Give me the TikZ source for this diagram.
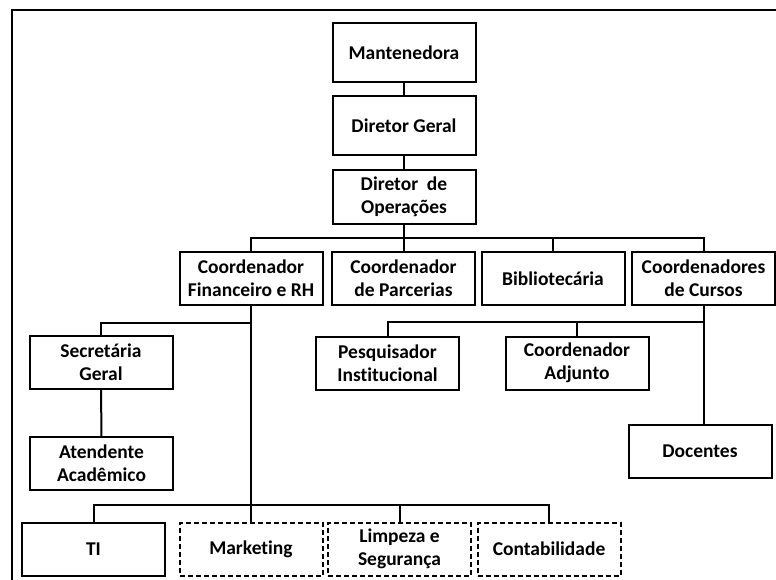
\documentclass[tikz,border=0pt]{standalone}
\usepackage{fontspec}
\setmainfont{Carlito}[Ligatures=NoCommon]
\begin{document}
\begin{tikzpicture}[x=1pt,y=-1pt,
  box/.style={draw,line width=2pt,minimum width=143pt,minimum height=53pt,
    align=center,inner sep=2pt,font=\bfseries\fontsize{19.5}{23}\selectfont},
  dbox/.style={box,dash pattern=on 5pt off 3pt},
  link/.style={line width=2pt}]
\useasboundingbox (0,0) rectangle (776,580);
\clip (0,0) rectangle (776,580);
\draw[line width=1.6pt] (12,10) rectangle (800,600);
\node[box,minimum height=59pt] (mant) at (404,52.5) {Mantenedora};
\node[box,minimum height=59pt] (dg) at (404,125.5) {Diretor Geral};
\node[box,minimum height=54pt] (dop) at (404,197) {Diretor~ de\\Operações};
\node[box] (cfrh) at (251,278.5) {Coordenador\\Financeiro e RH};
\node[box] (parc) at (403.5,278.5) {Coordenador\\de Parcerias};
\node[box] (bib) at (553,278.5) {Bibliotecária};
\node[box] (cursos) at (703.5,278.5) {Coordenadores\\de Cursos};
\node[box] (sec) at (101,362) {Secretária\\Geral};
\node[box] (aten) at (101.5,463.5) {Atendente\\Acadêmico};
\node[box] (pesq) at (387.5,363) {Pesquisador\\Institucional};
\node[box] (adj) at (577,363) {Coordenador\\Adjunto};
\node[box] (doc) at (700,451.5) {Docentes};
\node[box] (ti) at (93.5,549.5) {TI};
\node[dbox] (mkt) at (251,549) {Marketing};
\node[dbox] (limp) at (399.5,549) {Limpeza e\\Segurança};
\node[dbox] (cont) at (549,549) {Contabilidade};
\coordinate (bus1) at (0,238);
\coordinate (bus2) at (0,323);
\coordinate (bus3) at (0,322);
\coordinate (bus4) at (0,505);
\draw[link] (mant) -- (dg);
\draw[link] (dg) -- (dop);
\draw[link] (dop.south) -- (dop.south |- bus1);
\draw[link] (cfrh.north) |- (cursos.north |- bus1) -- (cursos.north);
\foreach \n in {parc,bib}
  \draw[link] (\n.north) -- (\n.north |- bus1);
\draw[link] (sec.north) |- (cfrh.south |- bus2);
\draw[link] (sec) -- (aten);
\draw[link] (cfrh.south) -- (mkt.north);
\draw[link] (ti.north) |- (cont.north |- bus4) -- (cont.north);
\draw[link] (limp.north) -- (limp.north |- bus4);
\draw[link] (pesq.north) |- (cursos.south |- bus3);
\draw[link] (adj.north) -- (adj.north |- bus3);
\draw[link] (cursos.south) -- (cursos.south |- doc.north);
\end{tikzpicture}
\end{document}
